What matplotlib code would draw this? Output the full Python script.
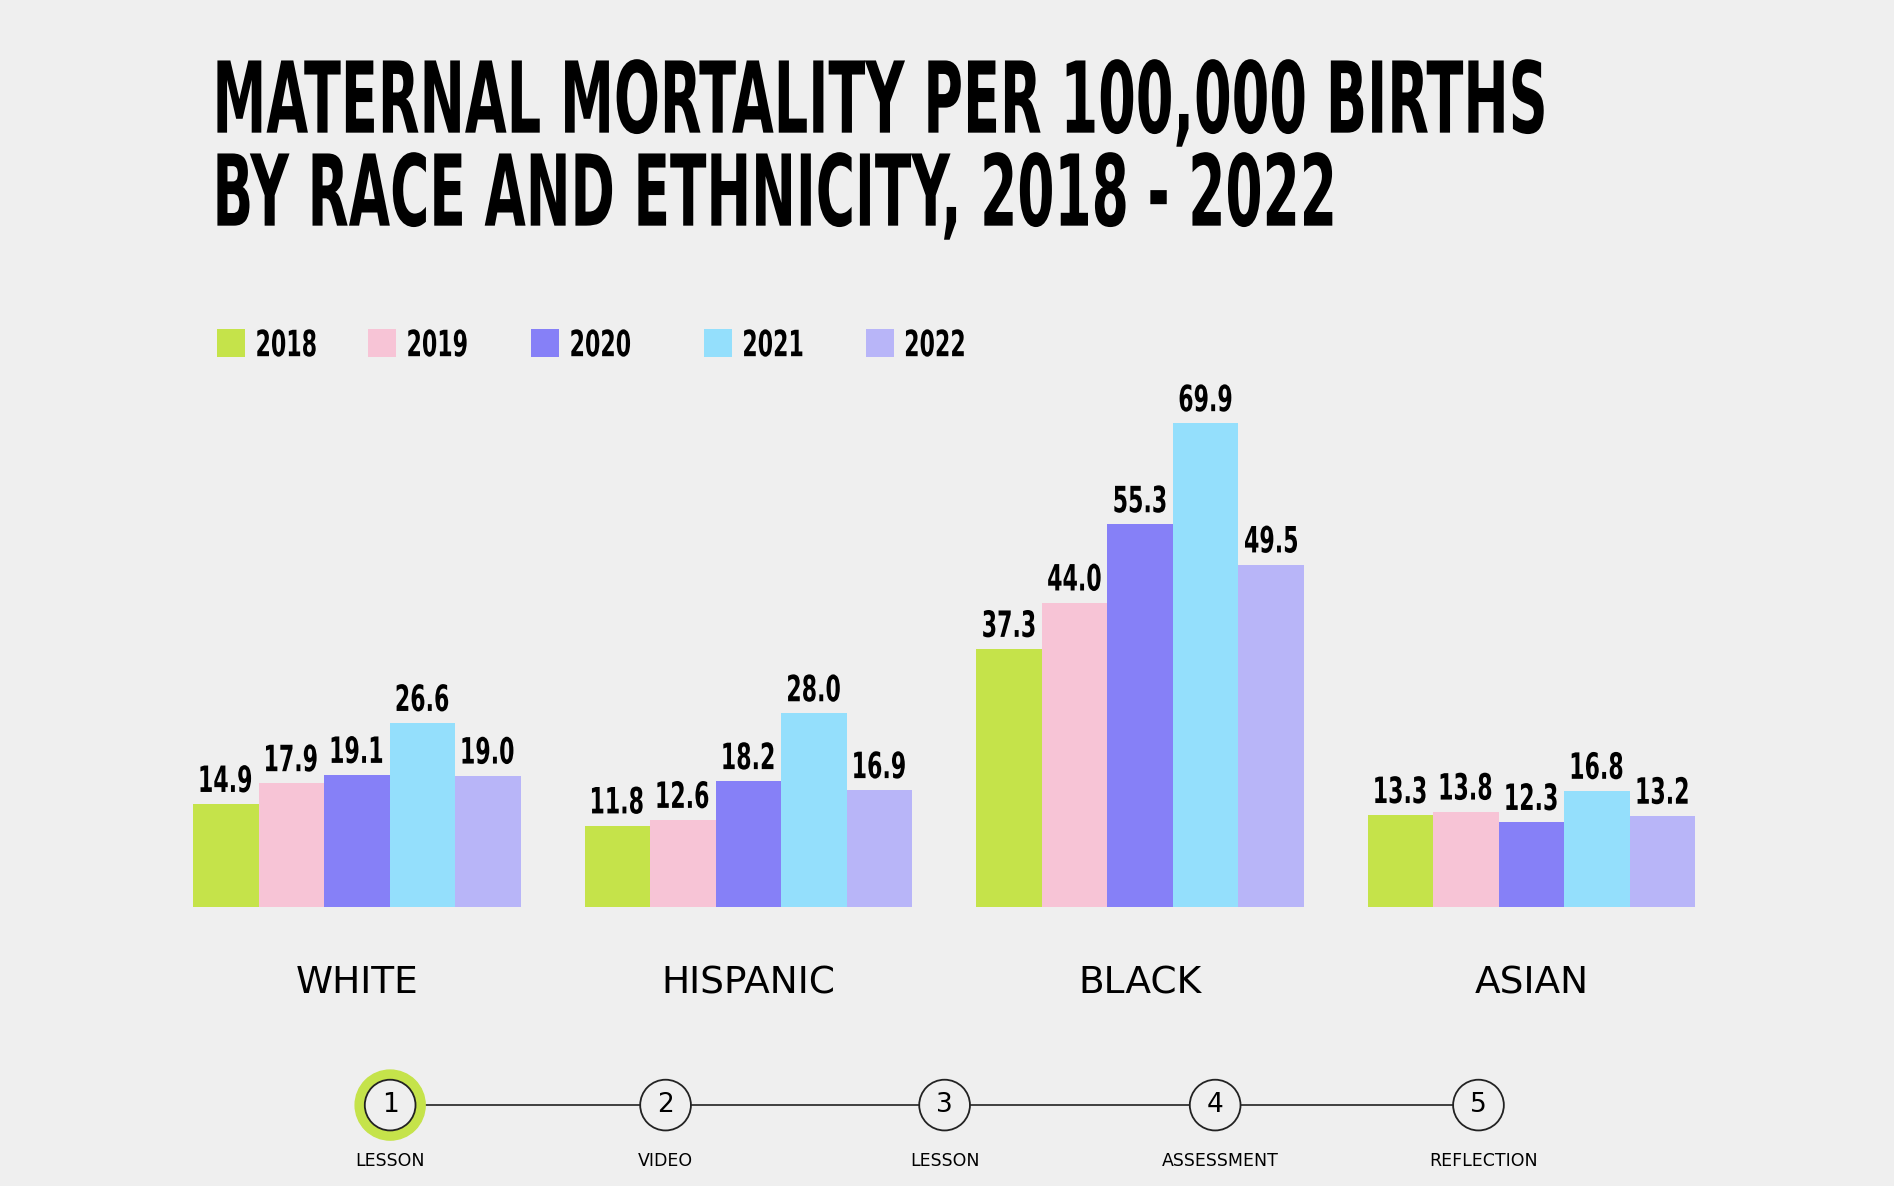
import matplotlib
matplotlib.use("Agg")
import matplotlib.pyplot as plt
from matplotlib.textpath import TextPath
from matplotlib.patches import PathPatch
from matplotlib.font_manager import FontProperties
from matplotlib.transforms import Affine2D
import numpy as np

groups = ["WHITE", "HISPANIC", "BLACK", "ASIAN"]
years = ["2018", "2019", "2020", "2021", "2022"]
values = {
    "2018": [14.9, 11.8, 37.3, 13.3],
    "2019": [17.9, 12.6, 44.0, 13.8],
    "2020": [19.1, 18.2, 55.3, 12.3],
    "2021": [26.6, 28.0, 69.9, 16.8],
    "2022": [19.0, 16.9, 49.5, 13.2],
}
colors = ["#c5e34a", "#f7c4d6", "#8680f7", "#94dffc", "#b8b5f8"]
steps = ["LESSON", "VIDEO", "LESSON", "ASSESSMENT", "REFLECTION"]

BG = "#efefef"
BOLD = FontProperties(family="DejaVu Sans", weight="bold")
H = 982  # overlay units (reference pixel grid)

fig = plt.figure(figsize=(18.94, 11.86), dpi=100, facecolor=BG)
ax = fig.add_axes([0.102, 0.235, 0.793, 0.467], facecolor=BG)
bax = fig.add_axes([0, 0, 1, 1], facecolor="none")
bax.set_xlim(0, 1568)
bax.set_ylim(0, H)
bax.axis("off")


def narrow(x, y, s, size, ha="center", sx=0.61, width=None):
    """condensed bold text drawn as a squeezed path; y is the vertical centre of caps"""
    tp = TextPath((0, 0), s, size=size, prop=BOLD)
    ref = TextPath((0, 0), "0", size=size, prop=BOLD).get_extents()
    ext = tp.get_extents()
    if width is not None:
        sx = width / ext.width
    frac = {"left": 0.0, "center": 0.5, "right": 1.0}[ha]
    tr = (Affine2D().translate(-ext.x0 - ext.width * frac, -ref.y0 - ref.height / 2)
          .scale(sx, 1).translate(x, y))
    bax.add_patch(PathPatch(tr.transform_path(tp), color="black", lw=0))


w = 0.1674
x = np.arange(len(groups))
ax.set_xlim(-0.418, 3.418)
ax.set_ylim(0, 80)
ax.axis("off")
to_b = ax.transData + bax.transData.inverted()
for i, y in enumerate(years):
    pos = x + (i - 2) * w
    ax.bar(pos, values[y], width=w, color=colors[i], linewidth=0)
    for p, v in zip(pos, values[y]):
        bx, by = to_b.transform((p, v))
        narrow(bx, by + 21, f"{v:.1f}", 30)

for xi, g in zip(x, groups):
    ax.text(xi, -11, g, ha="center", va="center", fontsize=27, family="DejaVu Sans")

# title
narrow(180, H - 80, "MATERNAL MORTALITY PER 100,000 BIRTHS", 82, ha="left", width=1098)
narrow(180, H - 157, "BY RACE AND ETHNICITY, 2018 - 2022", 82, ha="left", width=923)

# legend
leg_x = [180, 305, 440, 583, 717]
for lx, y, c in zip(leg_x, years, colors):
    bax.add_patch(plt.Rectangle((lx, H - 296), 23, 24, color=c, lw=0))
    narrow(lx + 33, H - 284, y, 30, ha="left")

# progress bar
px = [323, 551, 782, 1006, 1224]
cy = H - 915
bax.plot([px[0], px[-1]], [cy, cy], color="#222222", lw=1.2, zorder=1)
bax.add_patch(plt.Circle((px[0], cy), 29, color="#c5e34a", zorder=2))
for i, (p, s) in enumerate(zip(px, steps)):
    bax.add_patch(plt.Circle((p, cy), 21, facecolor=BG, edgecolor="#222222",
                             lw=1.3, zorder=3))
    bax.text(p, cy, str(i + 1), ha="center", va="center", fontsize=19, zorder=4)
    bax.text(p + (4 if i >= 3 else 0), H - 961, s, ha="center", va="center", fontsize=12.5)

fig.savefig("out.png", dpi=100, facecolor=BG)
